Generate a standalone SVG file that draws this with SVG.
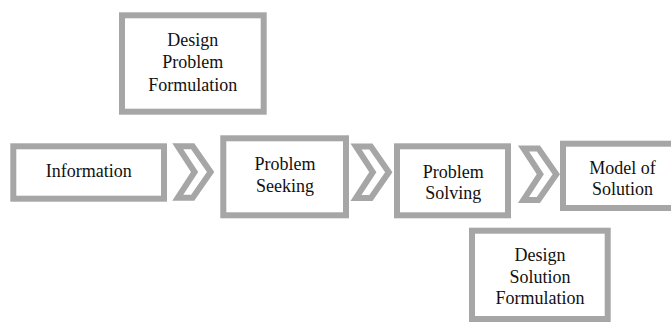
<svg xmlns="http://www.w3.org/2000/svg" width="671" height="322" viewBox="0 0 671 322">
<defs>
<style>
.box{fill:#ffffff;stroke:#a6a6a6;stroke-width:6}
.chev{fill:#ffffff;stroke:#a6a6a6;stroke-width:6;stroke-linejoin:miter;stroke-miterlimit:10}
text{font-family:"Liberation Serif","Times New Roman",serif;font-size:18px;font-weight:400;fill:#111111;text-anchor:middle}
</style>
<polygon id="chevron" points="5.5,3 20.4,3 38.3,28.7 20.4,54.4 5.5,54.4 22.3,28.7"/>
</defs>
<rect width="671" height="322" fill="#ffffff"/>
<g id="connectors">
<use href="#chevron" class="chev" transform="translate(172.3,143.3)"/>
<use href="#chevron" class="chev" transform="translate(350.5,143.5)"/>
<use href="#chevron" class="chev" transform="translate(518,145.5)"/>
</g>
<g id="design-problem-formulation">
<rect class="box" x="122" y="15.3" width="141.7" height="96.4"/>
<text x="192.8" y="46">Design</text>
<text x="192.8" y="68.3">Problem</text>
<text x="192.8" y="90.7">Formulation</text>
</g>
<g id="information">
<rect class="box" x="13.3" y="146.3" width="150.7" height="52.4"/>
<text x="88.7" y="176.7">Information</text>
</g>
<g id="problem-seeking">
<rect class="box" x="223.3" y="138.3" width="122.7" height="77"/>
<text x="285" y="170">Problem</text>
<text x="285" y="191.7">Seeking</text>
</g>
<g id="problem-solving">
<rect class="box" x="397" y="146.3" width="111" height="69"/>
<text x="453.2" y="178.3">Problem</text>
<text x="453.2" y="199.3">Solving</text>
</g>
<g id="model-of-solution">
<rect class="box" x="563" y="143.7" width="130" height="64.3"/>
<text x="622.5" y="174">Model of</text>
<text x="622.5" y="195">Solution</text>
</g>
<g id="design-solution-formulation">
<rect class="box" x="472" y="230.7" width="135.7" height="88.3"/>
<text x="540" y="260.7">Design</text>
<text x="540" y="282.7">Solution</text>
<text x="540" y="304.3">Formulation</text>
</g>
</svg>
